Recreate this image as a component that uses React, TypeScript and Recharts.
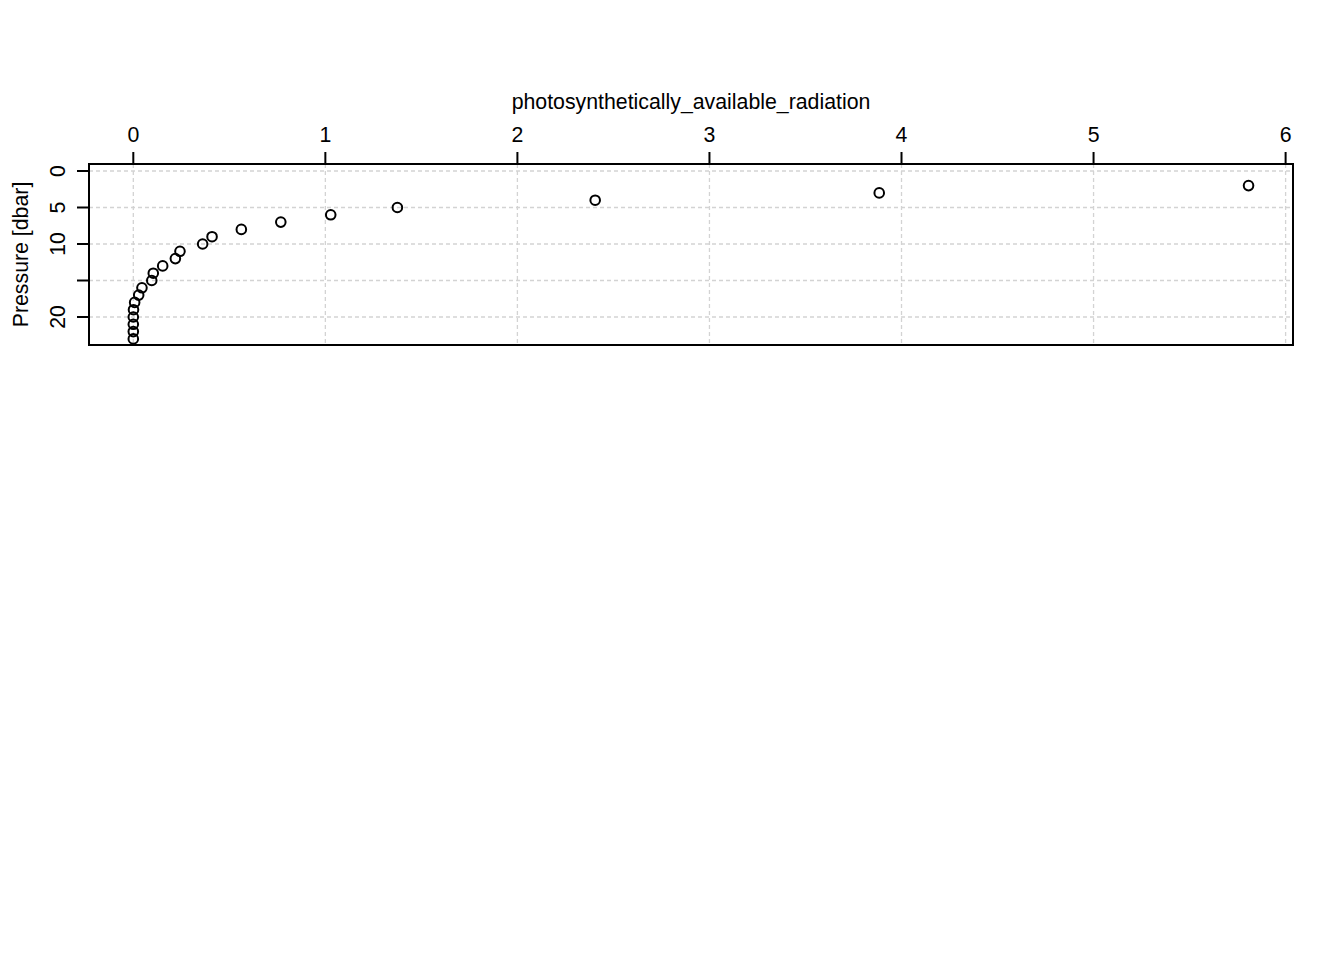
import { CartesianGrid, Label, ReferenceArea, Scatter, ScatterChart, XAxis, YAxis } from "recharts";

const pressure = [2, 3, 4, 5, 6, 7, 8, 9, 10, 11, 12, 13, 14, 15, 16, 17, 18, 19, 20, 21, 22, 23];
const par = [5.807, 3.884, 2.405, 1.375, 1.028, 0.768, 0.5625, 0.41, 0.361, 0.243, 0.219, 0.153, 0.104, 0.096, 0.045, 0.028, 0.007, 0.001, 0, 0, 0, 0];
const xTicks = [0, 1, 2, 3, 4, 5, 6];
const yTicks = [0, 5, 10, 15, 20];
const yTickLabels = ["0", "5", "10", "", "20"];

const points = pressure.map((p, i) => ({ p, v: par[i] }));

const FONT = "'Liberation Sans', Arial, Helvetica, sans-serif";
const FS = 21.3;
const X_DOMAIN: [number, number] = [-0.2307, 6.0385];
const Y_DOMAIN: [number, number] = [-0.959, 23.836];

// left axis labels sit parallel to the axis, like R's las=0
function YTick(props: any) {
  const { x, y, payload } = props;
  const idx = yTicks.indexOf(payload.value);
  const label = idx >= 0 ? yTickLabels[idx] : String(payload.value);
  const tx = x - 10;
  return (
    <text x={tx} y={y} transform={`rotate(-90, ${tx}, ${y})`} textAnchor="middle" fontFamily={FONT} fontSize={FS} fill="#000">
      {label}
    </text>
  );
}

function XTick(props: any) {
  const { x, y, payload } = props;
  return (
    <text x={x} y={y - 8} textAnchor="middle" fontFamily={FONT} fontSize={FS} fill="#000">
      {payload.value}
    </text>
  );
}

function Ring(props: any) {
  const { cx, cy } = props;
  return <circle cx={cx} cy={cy} r={4.8} fill="none" stroke="#000" strokeWidth={2} />;
}

export default function App() {
  return (
    <ScatterChart width={1328} height={420} margin={{ top: 116, left: 41, right: 43, bottom: 83 }}>
      <CartesianGrid stroke="#d3d3d3" strokeDasharray="4 3" strokeWidth={1.3} />
      <XAxis
        type="number"
        dataKey="v"
        orientation="top"
        domain={X_DOMAIN}
        ticks={xTicks}
        allowDataOverflow
        height={40}
        tickSize={12}
        tick={<XTick />}
        axisLine={false}
        tickLine={{ stroke: "#000", strokeWidth: 2 }}
      >
        <Label
          content={(lp: any) => {
            const vb = lp.viewBox || {};
            return (
              <text x={vb.x + vb.width / 2} y={vb.y - 15} textAnchor="middle" fontFamily={FONT} fontSize={FS} fill="#000">
                photosynthetically_available_radiation
              </text>
            );
          }}
        />
      </XAxis>
      <YAxis
        type="number"
        dataKey="p"
        reversed
        domain={Y_DOMAIN}
        ticks={yTicks}
        allowDataOverflow
        width={40}
        tickSize={12}
        tick={<YTick />}
        axisLine={false}
        tickLine={{ stroke: "#000", strokeWidth: 2 }}
      >
        <Label
          content={(lp: any) => {
            const vb = lp.viewBox || {};
            const lx = vb.x - 21;
            const ly = vb.y + vb.height / 2;
            return (
              <text x={lx} y={ly} transform={`rotate(-90, ${lx}, ${ly})`} textAnchor="middle" fontFamily={FONT} fontSize={FS} fill="#000">
                Pressure [dbar]
              </text>
            );
          }}
        />
      </YAxis>
      <ReferenceArea x1={X_DOMAIN[0]} x2={X_DOMAIN[1]} y1={Y_DOMAIN[0]} y2={Y_DOMAIN[1]} fill="none" fillOpacity={0} stroke="#000" strokeWidth={2} />
      <Scatter data={points} shape={<Ring />} isAnimationActive={false} />
    </ScatterChart>
  );
}
